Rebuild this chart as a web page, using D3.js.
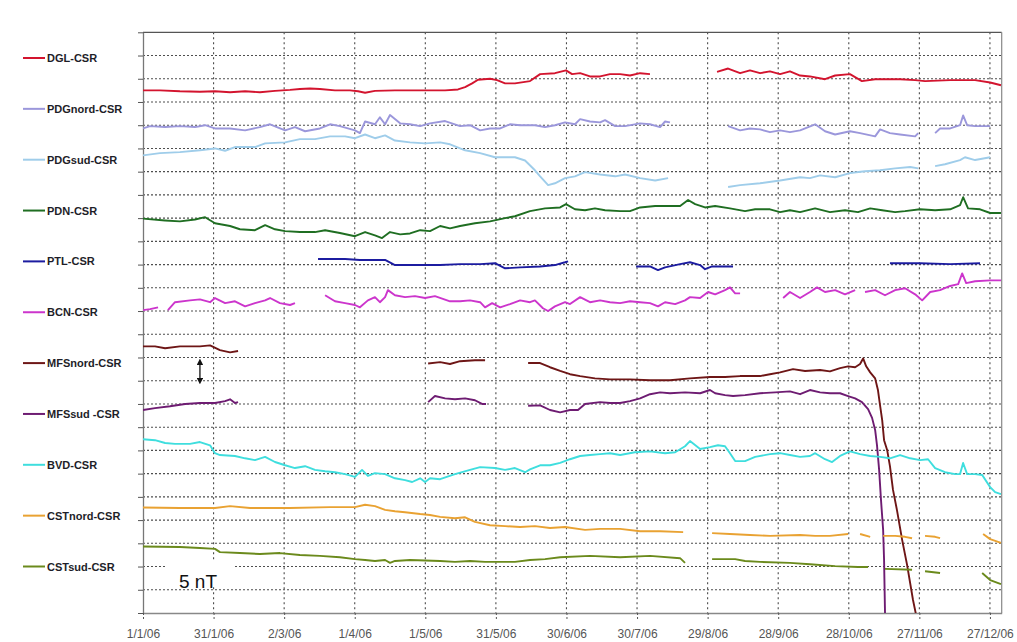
<!DOCTYPE html>
<html>
<head>
<meta charset="utf-8">
<script src="https://cdn.jsdelivr.net/npm/d3@7"></script>
<style>
  html, body { margin: 0; padding: 0; background: #fff; }
  svg { display: block; font-family: "Liberation Sans", Arial, sans-serif; }
</style>
</head>
<body>
<svg id="chart" width="1017" height="642"></svg>
<script>
// Station differences against CSR, daily offsets in nT, year 2006.
// Each point is [day of year (0 = 1 Jan), nT]; null marks a data gap.
const seriesNames = ["DGL-CSR", "PDGnord-CSR", "PDGsud-CSR", "PDN-CSR", "PTL-CSR", "BCN-CSR",
                     "MFSnord-CSR", "MFSsud -CSR", "BVD-CSR", "CSTnord-CSR", "CSTsud-CSR"];
const seriesColors = ["#d3142e", "#9b97db", "#9fcdea", "#1f6e22", "#1c1ca0", "#cc35cc",
                      "#6e1616", "#6e1c72", "#3fdede", "#e9a232", "#6b8a1c"];

const tickDays = [0, 30, 60, 90, 120, 150, 180, 210, 240, 270, 300, 330, 360];
const tickLabels = ["1/1/06", "31/1/06", "2/3/06", "1/4/06", "1/5/06", "31/5/06", "30/6/06",
                    "30/7/06", "29/8/06", "28/9/06", "28/10/06", "27/11/06", "27/12/06"];

const DGL = [[0,112.5],[7.2,112.5],[15.7,112.3],[24.2,112.2],[30.6,112.3],[37,112.1],[43.4,112.3],
  [49.7,112.1],[56.1,112.4],[62.5,112.6],[66.7,112.8],[71,112.9],[75.2,112.8],[81.6,112.5],[88,112.5],
  [91.4,112.3],[94.4,112.0],[98.6,112.4],[107.1,112.5],[117.8,112.5],[128.4,112.5],[133.9,112.7],
  [136.9,113.2],[139.9,114.0],[142.4,114.8],[147.5,115.0],[150.5,114.7],[153.9,114.0],[158.1,114.0],
  [164.5,114.5],[168.8,116.0],[175.1,116.2],[179.8,116.8],[182.4,116.0],[185.8,116.2],[190,115.5],
  [194.3,115.5],[198.5,116.0],[202.8,116.0],[207,115.7],[211.3,116.2],[215.5,116.0],
  null,
  [244,116.5],[248.7,117.2],[253.8,116.2],[258,116.8],[262.3,116.2],[266.5,116.6],[270.8,116.0],
  [275,116.6],[279.3,115.7],[283.5,115.5],[289.9,114.9],[294.2,115.7],[300.5,116.0],[305.6,114.5],
  [311.2,114.9],[321.8,114.9],[328.2,114.7],[332.4,114.5],[343.1,114.7],[353.7,114.7],[360.1,114.2],
  [364.7,113.6]];

const PDGnord = [[0,104.3],[3,104.8],[9.4,104.6],[15.7,104.8],[22.1,104.6],[26.4,105.0],[30.6,104.3],
  [37,104.3],[43.4,103.9],[49.7,104.6],[54,105.2],[60.4,103.9],[64.6,104.6],[68.9,103.7],[75.2,104.3],
  [79.5,105.2],[83.7,104.8],[90.1,103.9],[92.2,103.3],[94.4,105.8],[98.6,105.2],[100.7,106.7],
  [102.9,105.2],[105,107.2],[109.3,105.4],[113.5,105.2],[117.8,104.8],[122,105.4],[128.4,105.9],
  [134.8,104.8],[139,105.0],[143.3,103.9],[147.5,104.3],[151.8,104.3],[156,105.2],[160.3,105.0],
  [166.6,105.0],[170.9,104.6],[175.1,105.0],[179.4,105.6],[183.6,105.2],[185.8,106.3],[190,105.8],
  [194.3,105.6],[196.4,106.1],[200.7,104.8],[204.9,104.8],[211.3,105.4],[215.5,105.2],[219.8,104.6],
  [221.9,105.8],[224,105.6],
  null,
  [248.7,104.8],[253.8,103.9],[258,104.3],[262.3,104.1],[266.5,103.5],[270.8,103.9],[275,103.5],
  [279.3,103.9],[285.7,105.2],[289.9,103.7],[294.2,103.0],[300.5,103.7],[304.8,103.3],[311.2,102.6],
  [313.3,104.1],[317.5,103.3],[321.8,103.0],[328.2,102.6],[329.5,103.3],
  null,
  [336.7,103.3],[338.8,104.3],[343.1,104.3],[347.3,105.0],[348.6,107.1],[350.3,105.0],[353.7,104.8],
  [360.1,104.8]];

const PDGsud = [[0,98.5],[7.2,99.0],[15.7,99.2],[24.2,99.6],[30.6,100.0],[34.9,99.5],[39.1,100.3],
  [47.6,100.3],[51.9,101.1],[60.4,101.3],[66.7,102.0],[73.1,102.0],[79.5,102.6],[85.9,102.6],
  [90.1,102.2],[94.4,103.0],[98.6,102.2],[102.9,102.8],[107.1,101.7],[113.5,101.3],[119.9,101.1],
  [126.3,101.3],[130.5,100.9],[136.9,99.6],[143.3,99.0],[149.6,98.1],[158.1,98.1],[162.4,97.4],
  [166.6,95.3],[168.8,94.0],[172.2,92.1],[175.1,92.5],[179.4,93.6],[183.6,94.0],[187.9,94.9],
  [194.3,94.4],[200.7,94.0],[204.9,94.4],[211.3,93.6],[217.7,93.1],[223.2,93.6],
  null,
  [248.7,91.7],[253.8,92.1],[262.3,92.5],[270.8,93.1],[279.3,93.8],[283.5,93.6],[287.8,94.2],
  [294.2,93.8],[300.5,94.7],[306.9,95.1],[313.3,95.3],[319.7,95.7],[326.1,96.0],[329.5,95.7],
  null,
  [336.7,96.2],[340.9,96.6],[347.3,97.5],[349.4,98.1],[353.7,97.5],[360.1,98.1]];

const PDN = [[0,84.9],[9.4,84.5],[15.7,84.3],[22.1,84.7],[26.4,85.2],[30.6,83.9],[37,83.3],[41.2,82.6],
  [47.6,82.4],[51.9,83.5],[56.1,82.6],[60.4,82.2],[66.7,82.0],[73.1,82.0],[77.4,82.4],[83.7,81.8],
  [90.1,81.1],[94.4,82.0],[98.6,81.3],[101.6,80.7],[105,82.0],[109.3,81.5],[113.5,81.7],[117.8,82.4],
  [122,82.2],[126.3,83.3],[130.5,82.8],[134.8,83.3],[141.1,83.9],[147.5,84.3],[153.9,85.0],
  [158.1,85.4],[164.5,86.5],[170.9,87.1],[177.3,87.3],[179.8,88.0],[183.6,86.9],[187.9,86.7],
  [192.1,87.1],[196.4,86.7],[202.8,86.5],[207,86.5],[211.3,87.3],[217.7,87.6],[228.3,87.6],
  [231.7,88.9],[234.7,88.0],[238.9,87.3],[243.2,87.6],[249.5,87.1],[255.9,86.5],[260.2,86.9],
  [266.5,86.9],[270.8,86.3],[275,86.7],[279.3,86.3],[285.7,87.1],[292,86.3],[298.4,86.7],
  [303.9,86.3],[309.1,87.1],[314.2,86.7],[319.7,86.3],[323.9,86.5],[330.3,86.9],[336.7,86.7],
  [343.1,86.9],[347.3,87.8],[348.6,89.5],[350.7,87.1],[355.8,86.9],[360.1,86.1],[364.7,86.1]];

const PTL = [[74.4,76.2],[85.9,76.2],[92.2,76.0],[102.9,76.0],[107.1,74.9],[117.8,74.9],[126.3,74.9],
  [134.8,75.1],[143.3,75.1],[149.6,75.3],[153.9,74.2],[160.3,74.4],[168.8,74.6],[175.1,74.9],
  [179.4,75.5],[180.7,75.7],
  null,
  [209.6,74.6],[215.5,74.6],[218.9,73.8],[221.9,74.4],[228.3,75.1],[232.5,75.5],[236.8,74.9],
  [238.9,74.0],[241.9,74.6],[250.8,74.6],
  null,
  [317.5,75.3],[330.3,75.3],[343.1,75.1],[355.8,75.3]];

const BCN = [[0,65.2],[3,65.4],[6.4,65.8],
  null,
  [10.6,65.2],[13.6,66.9],[20,67.3],[24.2,67.5],[28.5,66.9],[30.6,67.8],[34.9,66.7],[39.1,67.1],
  [43.4,66.0],[47.6,66.7],[51.9,67.3],[54,67.8],[58.2,66.7],[62.5,66.3],[64.6,66.7],
  null,
  [77.4,68.4],[81.6,67.1],[85.9,66.7],[90.1,66.3],[92.2,65.8],[95.6,67.3],[98.6,68.0],[100.7,66.9],
  [102.9,68.0],[104.1,69.5],[107.1,68.4],[111.4,68.0],[115.6,68.2],[119.9,67.8],[124.1,68.2],
  [130.5,67.1],[134.8,67.1],[139,67.3],[143.3,66.9],[145.4,65.8],[148.4,66.7],[151.8,65.8],
  [156,66.5],[160.3,67.3],[164.5,66.9],[166.6,67.3],[170,65.6],[172.2,65.0],[175.1,66.0],
  [179.4,66.9],[181.5,66.5],[185.8,68.0],[190,66.9],[194.3,67.3],[198.5,66.9],[202.8,66.7],
  [207,67.1],[211.3,66.9],[215.5,66.7],[218.9,66.0],[221.9,66.9],[226.2,66.5],[230.4,67.3],
  [232.5,68.0],[236.8,67.8],[240.2,69.1],[243.2,68.6],[247.4,69.5],[249.5,70.1],[251.7,68.8],
  [253.8,68.8],
  null,
  [272.1,67.8],[275,69.1],[279.3,67.8],[283.5,69.1],[286.5,70.1],[289.9,69.1],[294.2,69.5],
  [298.4,68.6],[302.7,69.5],
  null,
  [306.9,69.1],[311.2,69.5],[315.4,68.4],[319.7,69.5],[323.9,69.9],[328.2,68.6],[331.2,67.3],
  [334.6,69.1],[338.8,69.5],[343.1,70.4],[346.5,70.8],[348.2,73.1],[349.9,71.0],[353.7,71.4],
  [360.1,71.6],[364.7,71.6]];

const MFSnord = [[0,57.4],[5.1,57.4],[9.4,57.0],[15.7,57.4],[24.2,57.4],[28.5,57.6],[32.7,56.6],
  [37,56.1],[40.4,56.4],
  null,
  [121.2,53.7],[126.3,54.0],[130.5,53.6],[134.8,54.2],[141.1,54.4],[145.4,54.4],
  null,
  [163.7,53.8],[168.8,53.8],[173,52.9],[177.3,52.1],[181.5,51.4],[185.8,51.0],[192.1,50.5],
  [198.5,50.3],[207,50.3],[215.5,50.1],[224,50.1],[232.5,50.5],[241,50.8],[247.4,50.8],[253.8,51.0],
  [262.3,51.0],[266.5,51.4],[270.8,51.8],[276.3,52.5],[281.4,52.1],[287.8,52.3],[292,52.0],
  [296.3,52.7],[299.7,53.1],[302.7,52.9],[304.8,53.6],[306.1,54.8],[307.4,53.1],[309.1,51.8],
  [311.2,50.5],[312.4,48.0],[313.3,44.7],[314.2,41.5],[315,37.2],[316.3,35.1],[317.5,31.6],
  [318.8,26.5],[320.5,22.1],[322.7,15.7],[324.8,10.3],[327.3,2.8],[329.5,-2.6]];

const MFSsud = [[0,43.7],[5.1,44.1],[11.5,44.5],[17.9,45.0],[24.2,45.2],[30.6,45.2],[34.9,45.6],
  [37,46.0],[39.1,45.2],[40.4,45.4],
  null,
  [121.2,45.4],[124.1,46.7],[128.4,46.2],[132.6,46.0],[136.9,46.2],[141.1,45.8],[144.1,45.0],
  [145.8,45.0],
  null,
  [163.7,44.6],[168.8,44.7],[173,43.7],[177.3,43.2],[181.5,43.7],[184.9,43.7],[187.9,45.0],
  [194.3,45.4],[198.5,45.2],[202.8,45.2],[207,45.6],[211.3,46.2],[215.5,47.1],[219.8,47.5],
  [224,47.3],[230.4,47.5],[236.8,47.3],[241,48.0],[243.2,47.3],[247.4,46.9],[250.8,46.7],
  [255.9,46.9],[262.3,47.3],[268.7,47.5],[275,47.7],[279.3,47.1],[283.5,48.0],[287.8,47.5],
  [292,47.3],[296.3,47.3],[299.7,46.7],[302.7,46.2],[305.6,45.4],[308.2,43.9],[309.9,42.0],
  [311.2,39.4],[312,36.1],[312.9,30.8],[313.7,24.3],[314.6,17.9],[315,11.4],[315.4,0],[315.8,-2.6]];

const BVD = [[0,37.4],[5.1,37.2],[9.4,36.6],[13.6,36.4],[20,36.4],[24.2,36.8],[28.5,36.1],[30.6,34.4],
  [32.7,34.0],[39.1,33.8],[43.4,33.3],[47.6,32.9],[51.9,33.6],[56.1,32.5],[60.4,31.8],[64.6,31.2],
  [68.9,31.6],[73.1,30.8],[77.4,30.5],[81.6,30.3],[85.9,29.9],[90.1,29.3],[93.1,30.8],[95.6,29.5],
  [98.6,30.1],[102.9,29.9],[107.1,29.0],[111.4,28.6],[114.4,28.2],[117.8,29.0],[119.9,28.2],
  [122,29.0],[126.3,28.8],[132.6,29.9],[139,30.8],[143.3,31.4],[149.6,31.2],[153.9,30.8],
  [158.1,31.2],[162.4,30.3],[164.5,30.9],[168.8,31.8],[173,31.8],[177.3,32.3],[181.5,33.1],
  [185.8,33.8],[190,34.0],[194.3,34.2],[198.5,34.4],[202.8,34.0],[209.1,34.6],[215.5,34.8],
  [221.9,34.4],[226.2,34.6],[230.4,35.9],[232.5,37.0],[236.8,35.3],[241,35.7],[244.4,36.1],
  [247.4,35.9],[249.5,34.4],[251.7,32.7],[255.9,32.7],[260.2,33.6],[266.5,34.2],[270.8,34.4],
  [275,34.0],[279.3,33.6],[283.5,33.8],[285.7,34.4],[289.9,33.1],[292.9,32.5],[296.3,33.8],
  [300.5,34.8],[304.8,34.2],[309.1,33.8],[313.3,33.6],[317.5,33.3],[321.8,34.0],[326.1,33.3],
  [330.3,32.9],[333.7,33.1],[336.7,31.2],[340.9,30.3],[345.2,29.9],[347.3,29.9],[348.6,32.3],
  [350.3,29.9],[353.7,29.9],[356.7,29.7],[360.1,27.1],[362.2,26.0],[364.7,25.6]];

const CSTnord = [[0,22.7],[15.7,22.6],[30.6,22.6],[37,23.0],[45.5,22.6],[62.5,22.6],[79.5,22.8],
  [90.1,22.8],[94.4,23.3],[98.6,23.0],[102.9,22.2],[107.1,21.9],[111.4,21.7],[117.8,21.3],[122,21.1],
  [126.3,20.7],[132.6,20.4],[136.9,20.6],[141.1,19.6],[147.5,18.9],[153.9,18.7],[160.3,18.5],
  [166.6,18.7],[173,18.3],[179.4,18.5],[187.9,17.9],[194.3,18.1],[202.8,18.1],[211.3,17.6],
  [219.8,17.6],[229.6,17.4],
  null,
  [241.9,17.2],[249.5,17.0],[258,16.8],[266.5,16.6],[279.3,16.8],[285.7,16.6],[292,16.6],[299.7,17.0],
  null,
  [304.8,17.0],[309.1,16.4],
  null,
  [314.6,16.6],[319.7,16.6],[323.9,16.4],[326.9,16.1],
  null,
  [332.4,16.6],[336.7,16.4],[338.8,16.1],
  null,
  [357.1,17.0],[360.1,15.9],[364.7,15.1]];

const CSTsud = [[0,14.3],[15.7,14.2],[24.2,14.0],[30.6,13.8],[32.7,13.1],[41.2,12.9],[49.7,12.7],
  [58.2,12.9],[66.7,12.5],[75.2,12.3],[83.7,12.0],[90.1,11.6],[94.4,11.4],[98.6,11.2],[102.9,11.4],
  [105,10.8],[107.1,11.2],[113.5,11.4],[126.3,11.2],[132.6,11.0],[139,11.2],[145.4,11.0],
  [158.1,11.0],[164.5,11.4],[170.9,11.6],[177.3,12.0],[190,12.3],[202.8,12.0],[215.5,12.3],
  [228.3,11.8],[230.4,10.8],
  null,
  [241.9,11.6],[251.7,11.6],[255.9,11.2],[262.3,11.0],[275,10.8],[283.5,10.5],[294.2,10.1],
  [303.9,9.9],[308.2,9.9],
  null,
  [315.4,9.5],[326.9,9.3],
  null,
  [332.4,9.0],[338.8,8.6],
  null,
  [356.7,8.6],[360.1,7.1],[364.7,6.2]];

const seriesData = [DGL, PDGnord, PDGsud, PDN, PTL, BCN, MFSnord, MFSsud, BVD, CSTnord, CSTsud];

// Scale bar annotation: a 5 nT double arrow and its caption
const scaleBarDay = 24.2;
const scaleBarRange = [54.5, 49.5];
const scaleCaption = "5 nT";

const svg = d3.select("#chart");
const plot = { left: 143, right: 1001.7, top: 32.3, bottom: 613 };

const x = d3.scaleLinear().domain([0, 365]).range([plot.left, plot.right]);
const y = d3.scaleLinear().domain([0, 125]).range([plot.bottom, plot.top]);
const gridValues = d3.range(0, 126, 5);

const defs = svg.append("defs");
defs.append("clipPath").attr("id", "plotClip")
  .append("rect")
  .attr("x", plot.left).attr("y", plot.top)
  .attr("width", plot.right - plot.left).attr("height", plot.bottom - plot.top);

// Horizontal dotted grid
svg.append("g").selectAll("line")
  .data(gridValues.filter(v => v > 0 && v < 125))
  .join("line")
  .attr("x1", plot.left).attr("x2", plot.right)
  .attr("y1", d => y(d)).attr("y2", d => y(d))
  .attr("stroke", "#4e4e4e").attr("stroke-width", 1.1)
  .attr("stroke-dasharray", "2,2");

// Vertical dashed grid
svg.append("g").selectAll("line")
  .data(tickDays.filter(d => d > 0))
  .join("line")
  .attr("x1", d => x(d)).attr("x2", d => x(d))
  .attr("y1", plot.top).attr("y2", plot.bottom)
  .attr("stroke", "#4a4a4a").attr("stroke-width", 1.1)
  .attr("stroke-dasharray", "2,3");

// Plot frame
svg.append("line").attr("x1", plot.left).attr("x2", plot.right)
  .attr("y1", plot.top).attr("y2", plot.top).attr("stroke", "#555").attr("stroke-width", 1.2);
svg.append("line").attr("x1", plot.right).attr("x2", plot.right)
  .attr("y1", plot.top).attr("y2", plot.bottom).attr("stroke", "#888").attr("stroke-width", 1.2);

// Left axis: unlabeled ticks every 5 nT
const yAxis = svg.append("g")
  .attr("transform", `translate(${plot.left},0)`)
  .call(d3.axisLeft(y).tickValues(gridValues).tickFormat("").tickSize(5).tickSizeOuter(0));
yAxis.select(".domain").attr("stroke", "#777").attr("stroke-width", 1.3);
yAxis.selectAll(".tick line").attr("stroke", "#555");

// Bottom axis with date labels
const xAxis = svg.append("g")
  .attr("transform", `translate(0,${plot.bottom})`)
  .call(d3.axisBottom(x).tickValues(tickDays).tickFormat((d, i) => tickLabels[i])
        .tickSize(6).tickSizeOuter(0).tickPadding(10));
xAxis.select(".domain").attr("stroke", "#888").attr("stroke-width", 1.3);
xAxis.selectAll(".tick line").attr("stroke", "#555").attr("stroke-dasharray", "2,2");
xAxis.selectAll(".tick text")
  .attr("font-family", "\"Liberation Sans\", Arial, sans-serif")
  .attr("font-size", 12).attr("fill", "#555");

// Series lines
const line = d3.line()
  .defined(d => d !== null)
  .x(d => x(d[0]))
  .y(d => y(d[1]));

svg.append("g").attr("clip-path", "url(#plotClip)")
  .selectAll("path")
  .data(seriesData)
  .join("path")
  .attr("d", d => line(d))
  .attr("fill", "none")
  .attr("stroke", (d, i) => seriesColors[i])
  .attr("stroke-width", 1.9)
  .attr("stroke-linejoin", "round");

// Legend down the left margin
const legend = svg.append("g").selectAll("g")
  .data(seriesNames)
  .join("g")
  .attr("transform", (d, i) => `translate(0,${58 + i * 50.85})`);
legend.append("line")
  .attr("x1", 23).attr("x2", 45).attr("y1", 0).attr("y2", 0)
  .attr("stroke", (d, i) => seriesColors[i]).attr("stroke-width", 2);
legend.append("text")
  .attr("x", 47).attr("y", 4)
  .attr("font-size", 11).attr("font-weight", "bold")
  .attr("fill", "#1e1e28")
  .text(d => d);

// Scale arrow
defs.append("marker").attr("id", "arrowHead")
  .attr("viewBox", "0 0 10 10").attr("refX", 5).attr("refY", 5)
  .attr("markerWidth", 5).attr("markerHeight", 5).attr("orient", "auto-start-reverse")
  .append("path").attr("d", "M0,0 L10,5 L0,10 z").attr("fill", "#111");
svg.append("line")
  .attr("x1", x(scaleBarDay)).attr("x2", x(scaleBarDay))
  .attr("y1", y(scaleBarRange[0]) + 2).attr("y2", y(scaleBarRange[1]) - 2)
  .attr("stroke", "#111").attr("stroke-width", 1.3)
  .attr("marker-start", "url(#arrowHead)").attr("marker-end", "url(#arrowHead)");

// Caption box
svg.append("rect").attr("x", 166).attr("y", 560).attr("width", 68).attr("height", 26).attr("fill", "#fff");
svg.append("text").attr("x", 179).attr("y", 588)
  .attr("font-size", 19).attr("fill", "#111")
  .text(scaleCaption);
</script>
</body>
</html>
